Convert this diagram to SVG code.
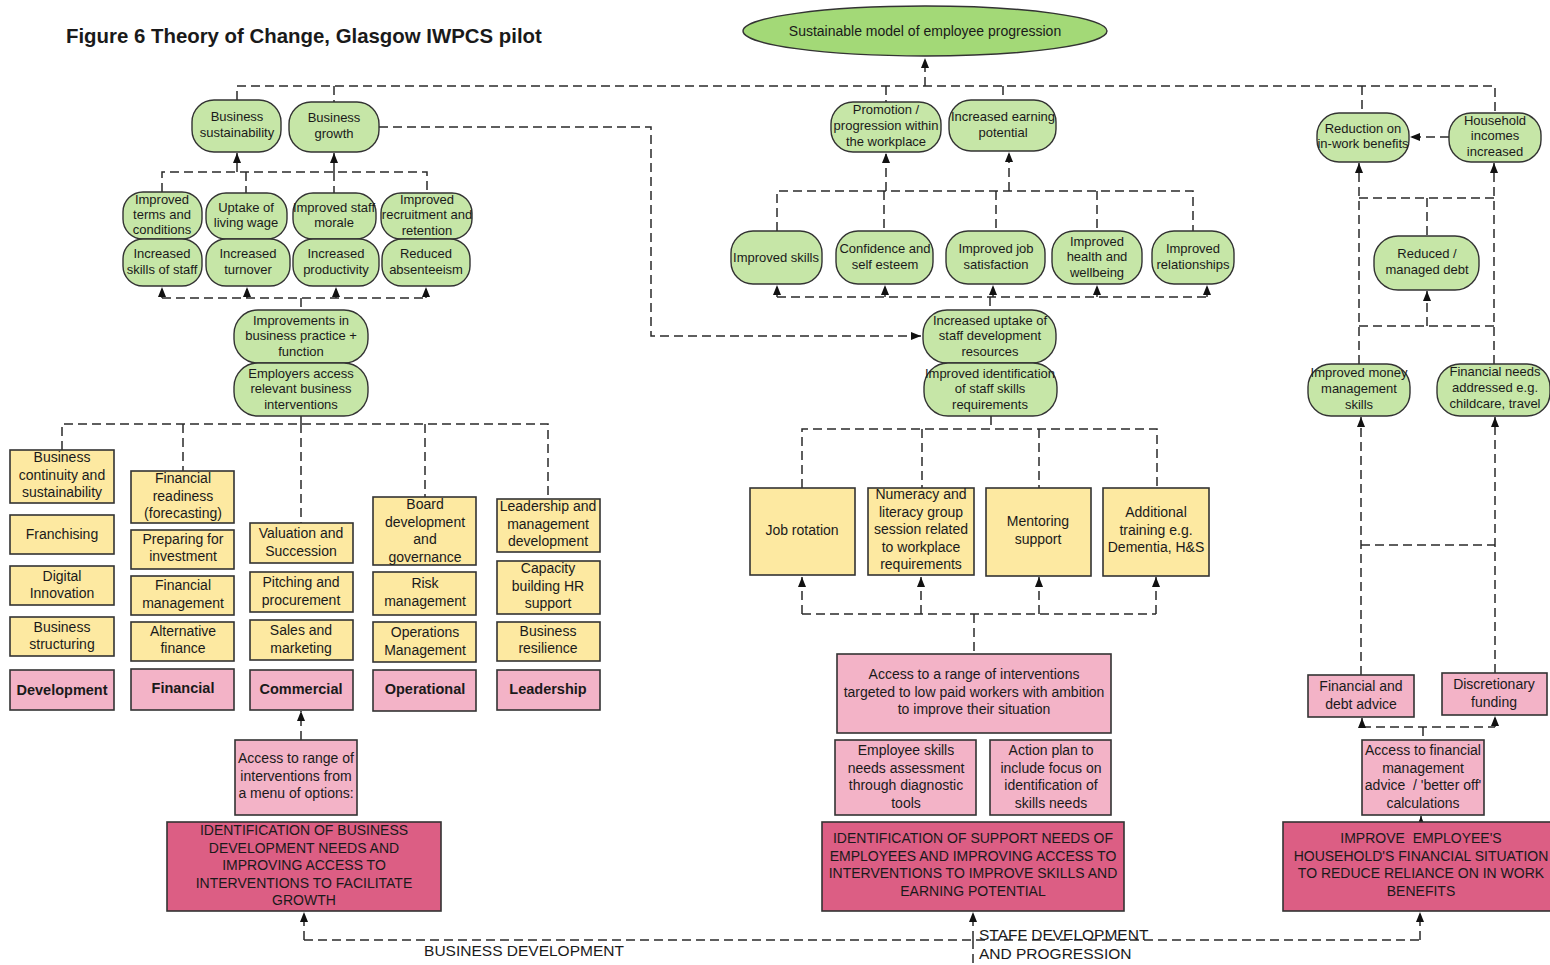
<svg xmlns="http://www.w3.org/2000/svg" width="1550" height="965" viewBox="0 0 1550 965">
<defs>
<marker id="ah" markerWidth="10" markerHeight="8" refX="10" refY="4" orient="auto" markerUnits="userSpaceOnUse"><path d="M0,0 L10,4 L0,8 z" fill="#111" stroke="none"/></marker>
<style>
.g{fill:#c6e6a7;stroke:#333;stroke-width:1.4}
.e{fill:#a3d977;stroke:#333;stroke-width:1.4}
.y{fill:#fde9a1;stroke:#333;stroke-width:1.6}
.p{fill:#f3b3c7;stroke:#333;stroke-width:1.6}
.d{fill:#dc5e84;stroke:#333;stroke-width:1.6}
text{font-family:"Liberation Sans",Arial,sans-serif;fill:#1a1a1a;text-anchor:middle}
.s13{font-size:13px}
.s14{font-size:14px}
.b{font-size:14.5px;font-weight:bold}
.c{fill:none;stroke:#2a2a2a;stroke-width:1.5;stroke-dasharray:9 5}
.a{fill:none;stroke:#2a2a2a;stroke-width:1.5;stroke-dasharray:9 5;marker-end:url(#ah)}
</style>
</defs>
<rect width="1550" height="965" fill="#fff"/>
<text x="66" y="43" style="font-size:20.4px;font-weight:bold;text-anchor:start">Figure 6 Theory of Change, Glasgow IWPCS pilot</text>

<g id="connectors">
<path class="c" d="M237,100 V86 H1495 V113"/>
<path class="c" d="M334,86 V102 M886,86 V102 M1003,86 V100 M1362,86 V113"/>
<path class="a" d="M925,86 V58"/>
<path class="c" d="M162,192 V172 H427 V193 M246,172 V193 M334,172 V193"/>
<path class="a" d="M237,172 V153"/>
<path class="a" d="M334,172 V153"/>
<path class="c" d="M162,298 H426 M301,298 V310"/>
<path class="a" d="M162,298 V287"/>
<path class="a" d="M247,298 V287"/>
<path class="a" d="M336,298 V287"/>
<path class="a" d="M426,298 V287"/>
<path class="c" d="M301,416 V424 M62,450 V424 H548 V499 M183,424 V471 M301,424 V523 M425,424 V497"/>
<path class="a" d="M301,740 V711"/>
<path class="a" d="M379,127 H651 V336 H921"/>
<path class="c" d="M304,940 H1420 M973,940 V965"/>
<path class="a" d="M304,940 V912"/>
<path class="a" d="M973,940 V912"/>
<path class="a" d="M1420,940 V912"/>
<path class="a" d="M886,191 V153"/>
<path class="a" d="M1009,191 V152"/>
<path class="c" d="M777,231 V191 H1193 V231 M884,191 V231 M996,191 V231 M1097,191 V231"/>
<path class="c" d="M777,297 H1207 M990,297 V310"/>
<path class="a" d="M777,297 V285"/>
<path class="a" d="M885,297 V285"/>
<path class="a" d="M993,297 V285"/>
<path class="a" d="M1097,297 V285"/>
<path class="a" d="M1207,297 V285"/>
<path class="c" d="M991,416 V429 M802,488 V429 H1157 V488 M922,429 V488 M1039,429 V488"/>
<path class="c" d="M802,614 H1156 M974,614 V654"/>
<path class="a" d="M802,614 V577"/>
<path class="a" d="M921,614 V577"/>
<path class="a" d="M1039,614 V577"/>
<path class="a" d="M1156,614 V577"/>
<path class="a" d="M1449,137 H1410"/>
<path class="a" d="M1359,364 V163"/>
<path class="a" d="M1494,364 V163"/>
<path class="c" d="M1359,198 H1494 M1427,198 V236 M1359,326 H1494"/>
<path class="a" d="M1427,326 V291"/>
<path class="a" d="M1361,675 V417"/>
<path class="a" d="M1495,673 V417"/>
<path class="c" d="M1361,545 H1495 M1362,727 H1495 M1423,727 V740"/>
<path class="a" d="M1362,727 V718"/>
<path class="a" d="M1495,727 V716"/>
<path class="a" d="M1421,822 V816"/>
</g>

<g id="goal"><ellipse class="e" cx="925" cy="31" rx="182" ry="25"/><text class="s14" x="925" y="36">Sustainable model of employee progression</text></g>

<g id="bsust"><rect class="g" x="192" y="100" width="89" height="52" rx="22"/><text class="s13" x="237" y="121"><tspan x="237">Business</tspan><tspan x="237" dy="16">sustainability</tspan></text></g>
<g id="bgrowth"><rect class="g" x="289" y="102" width="90" height="50" rx="22"/><text class="s13" x="334" y="122"><tspan x="334">Business</tspan><tspan x="334" dy="16">growth</tspan></text></g>
<g id="terms"><rect class="g" x="123" y="192" width="79" height="47" rx="20"/><text class="s13" x="162" y="203.5"><tspan x="162">Improved</tspan><tspan x="162" dy="15">terms and</tspan><tspan x="162" dy="15">conditions</tspan></text></g>
<g id="livwage"><rect class="g" x="206" y="193" width="81" height="46" rx="20"/><text class="s13" x="246" y="211.5"><tspan x="246">Uptake of</tspan><tspan x="246" dy="15.5">living wage</tspan></text></g>
<g id="morale"><rect class="g" x="293" y="193" width="83" height="46" rx="20"/><text class="s13" x="334" y="211.5"><tspan x="334">Improved staff</tspan><tspan x="334" dy="15.5">morale</tspan></text></g>
<g id="recruit"><rect class="g" x="381" y="193" width="91" height="46" rx="20"/><text class="s13" x="427" y="203.5"><tspan x="427">Improved</tspan><tspan x="427" dy="15.5">recruitment and</tspan><tspan x="427" dy="15.5">retention</tspan></text></g>
<g id="skillsstaff"><rect class="g" x="123" y="239" width="79" height="47" rx="20"/><text class="s13" x="162" y="258"><tspan x="162">Increased</tspan><tspan x="162" dy="16">skills of staff</tspan></text></g>
<g id="turnover"><rect class="g" x="206" y="239" width="84" height="47" rx="20"/><text class="s13" x="248" y="258"><tspan x="248">Increased</tspan><tspan x="248" dy="16">turnover</tspan></text></g>
<g id="productivity"><rect class="g" x="293" y="239" width="86" height="47" rx="20"/><text class="s13" x="336" y="258"><tspan x="336">Increased</tspan><tspan x="336" dy="16">productivity</tspan></text></g>
<g id="absent"><rect class="g" x="382" y="239" width="88" height="47" rx="20"/><text class="s13" x="426" y="258"><tspan x="426">Reduced</tspan><tspan x="426" dy="16">absenteeism</tspan></text></g>
<g id="bpractice"><rect class="g" x="234" y="310" width="134" height="53" rx="24"/><text class="s13" x="301" y="324.5"><tspan x="301">Improvements in</tspan><tspan x="301" dy="15.5">business practice +</tspan><tspan x="301" dy="15.5">function</tspan></text></g>
<g id="empaccess"><rect class="g" x="234" y="363" width="134" height="53" rx="24"/><text class="s13" x="301" y="377.5"><tspan x="301">Employers access</tspan><tspan x="301" dy="15.5">relevant business</tspan><tspan x="301" dy="15.5">interventions</tspan></text></g>

<g id="bcont"><rect class="y" x="10" y="450" width="104" height="53"/><text class="s14" x="62" y="462"><tspan x="62">Business</tspan><tspan x="62" dy="17.5">continuity and</tspan><tspan x="62" dy="17.5">sustainability</tspan></text></g>
<g id="franch"><rect class="y" x="10" y="515" width="104" height="39"/><text class="s14" x="62" y="539">Franchising</text></g>
<g id="digital"><rect class="y" x="10" y="566" width="104" height="39"/><text class="s14" x="62" y="581"><tspan x="62">Digital</tspan><tspan x="62" dy="17">Innovation</tspan></text></g>
<g id="bstruct"><rect class="y" x="10" y="617" width="104" height="39"/><text class="s14" x="62" y="632"><tspan x="62">Business</tspan><tspan x="62" dy="17">structuring</tspan></text></g>
<g id="development"><rect class="p" x="10" y="670" width="104" height="40"/><text class="b" x="62" y="695">Development</text></g>

<g id="finready"><rect class="y" x="131" y="471" width="103" height="52"/><text class="s14" x="183" y="483"><tspan x="183">Financial</tspan><tspan x="183" dy="17.5">readiness</tspan><tspan x="183" dy="17.5">(forecasting)</tspan></text></g>
<g id="prepinv"><rect class="y" x="131" y="530" width="103" height="39"/><text class="s14" x="183" y="544"><tspan x="183">Preparing for</tspan><tspan x="183" dy="17">investment</tspan></text></g>
<g id="finman"><rect class="y" x="131" y="576" width="103" height="39"/><text class="s14" x="183" y="590"><tspan x="183">Financial</tspan><tspan x="183" dy="17.5">management</tspan></text></g>
<g id="altfin"><rect class="y" x="131" y="622" width="103" height="39"/><text class="s14" x="183" y="636"><tspan x="183">Alternative</tspan><tspan x="183" dy="17">finance</tspan></text></g>
<g id="financial"><rect class="p" x="131" y="669" width="103" height="41"/><text class="b" x="183" y="693">Financial</text></g>

<g id="valuation"><rect class="y" x="250" y="523" width="103" height="40"/><text class="s14" x="301" y="538"><tspan x="301">Valuation and</tspan><tspan x="301" dy="17.5">Succession</tspan></text></g>
<g id="pitching"><rect class="y" x="250" y="572" width="103" height="40"/><text class="s14" x="301" y="587"><tspan x="301">Pitching and</tspan><tspan x="301" dy="17.5">procurement</tspan></text></g>
<g id="sales"><rect class="y" x="250" y="620" width="103" height="40"/><text class="s14" x="301" y="635"><tspan x="301">Sales and</tspan><tspan x="301" dy="17.5">marketing</tspan></text></g>
<g id="commercial"><rect class="p" x="250" y="670" width="103" height="40"/><text class="b" x="301" y="694">Commercial</text></g>

<g id="board"><rect class="y" x="373" y="497" width="103" height="68"/><text class="s14" x="425" y="509"><tspan x="425">Board</tspan><tspan x="425" dy="17.5">development</tspan><tspan x="425" dy="17.5">and</tspan><tspan x="425" dy="17.5">governance</tspan></text></g>
<g id="risk"><rect class="y" x="373" y="572" width="103" height="43"/><text class="s14" x="425" y="588"><tspan x="425">Risk</tspan><tspan x="425" dy="17.5">management</tspan></text></g>
<g id="opsman"><rect class="y" x="373" y="622" width="103" height="40"/><text class="s14" x="425" y="637"><tspan x="425">Operations</tspan><tspan x="425" dy="17.5">Management</tspan></text></g>
<g id="operational"><rect class="p" x="373" y="670" width="103" height="41"/><text class="b" x="425" y="694">Operational</text></g>

<g id="leaddev"><rect class="y" x="497" y="499" width="103" height="53"/><text class="s14" x="548" y="511"><tspan x="548">Leadership and</tspan><tspan x="548" dy="17.5">management</tspan><tspan x="548" dy="17.5">development</tspan></text></g>
<g id="capacity"><rect class="y" x="497" y="561" width="103" height="53"/><text class="s14" x="548" y="573"><tspan x="548">Capacity</tspan><tspan x="548" dy="17.5">building HR</tspan><tspan x="548" dy="17.5">support</tspan></text></g>
<g id="resilience"><rect class="y" x="497" y="622" width="103" height="39"/><text class="s14" x="548" y="636"><tspan x="548">Business</tspan><tspan x="548" dy="17">resilience</tspan></text></g>
<g id="leadership"><rect class="p" x="497" y="670" width="103" height="40"/><text class="b" x="548" y="694">Leadership</text></g>

<g id="menu"><rect class="p" x="235" y="740" width="122" height="75"/><text class="s14" x="296" y="763"><tspan x="296">Access to range of</tspan><tspan x="296" dy="17.5">interventions from</tspan><tspan x="296" dy="17.5">a menu of options:</tspan></text></g>
<g id="idbus"><rect class="d" x="167" y="822" width="274" height="89"/><text class="s14" x="304" y="835"><tspan x="304">IDENTIFICATION OF BUSINESS</tspan><tspan x="304" dy="17.5">DEVELOPMENT NEEDS AND</tspan><tspan x="304" dy="17.5">IMPROVING ACCESS TO</tspan><tspan x="304" dy="17.5">INTERVENTIONS TO FACILITATE</tspan><tspan x="304" dy="17.5">GROWTH</tspan></text></g>

<g id="promotion"><rect class="g" x="831" y="102" width="110" height="50" rx="22"/><text class="s13" x="886" y="113.5"><tspan x="886">Promotion /</tspan><tspan x="886" dy="16">progression within</tspan><tspan x="886" dy="16">the workplace</tspan></text></g>
<g id="earning"><rect class="g" x="949" y="100" width="107" height="51" rx="22"/><text class="s13" x="1003" y="120.5"><tspan x="1003">Increased earning</tspan><tspan x="1003" dy="16">potential</tspan></text></g>
<g id="impskills"><rect class="g" x="731" y="231" width="91" height="53" rx="22"/><text class="s13" x="776" y="261.5">Improved skills</text></g>
<g id="confidence"><rect class="g" x="836" y="231" width="97" height="53" rx="22"/><text class="s13" x="885" y="253"><tspan x="885">Confidence and</tspan><tspan x="885" dy="16">self esteem</tspan></text></g>
<g id="jobsat"><rect class="g" x="946" y="231" width="99" height="53" rx="22"/><text class="s13" x="996" y="253"><tspan x="996">Improved job</tspan><tspan x="996" dy="16">satisfaction</tspan></text></g>
<g id="health"><rect class="g" x="1052" y="231" width="90" height="53" rx="22"/><text class="s13" x="1097" y="245.5"><tspan x="1097">Improved</tspan><tspan x="1097" dy="15.5">health and</tspan><tspan x="1097" dy="15.5">wellbeing</tspan></text></g>
<g id="relationships"><rect class="g" x="1152" y="231" width="82" height="53" rx="22"/><text class="s13" x="1193" y="253"><tspan x="1193">Improved</tspan><tspan x="1193" dy="16">relationships</tspan></text></g>
<g id="uptake"><rect class="g" x="923" y="310" width="133" height="53" rx="24"/><text class="s13" x="990" y="324.5"><tspan x="990">Increased uptake of</tspan><tspan x="990" dy="15.5">staff development</tspan><tspan x="990" dy="15.5">resources</tspan></text></g>
<g id="identification"><rect class="g" x="924" y="363" width="133" height="53" rx="24"/><text class="s13" x="990" y="377.5"><tspan x="990">Improved identification</tspan><tspan x="990" dy="15.5">of staff skills</tspan><tspan x="990" dy="15.5">requirements</tspan></text></g>

<g id="jobrot"><rect class="y" x="750" y="488" width="105" height="87"/><text class="s14" x="802" y="535">Job rotation</text></g>
<g id="numeracy"><rect class="y" x="868" y="488" width="106" height="87"/><text class="s14" x="921" y="499"><tspan x="921">Numeracy and</tspan><tspan x="921" dy="17.5">literacy group</tspan><tspan x="921" dy="17.5">session related</tspan><tspan x="921" dy="17.5">to workplace</tspan><tspan x="921" dy="17.5">requirements</tspan></text></g>
<g id="mentoring"><rect class="y" x="986" y="488" width="105" height="88"/><text class="s14" x="1038" y="526"><tspan x="1038">Mentoring</tspan><tspan x="1038" dy="17.5">support</tspan></text></g>
<g id="addtrain"><rect class="y" x="1103" y="488" width="106" height="88"/><text class="s14" x="1156" y="517"><tspan x="1156">Additional</tspan><tspan x="1156" dy="17.5">training e.g.</tspan><tspan x="1156" dy="17.5">Dementia, H&amp;S</tspan></text></g>

<g id="range"><rect class="p" x="837" y="654" width="274" height="79"/><text class="s14" x="974" y="679"><tspan x="974">Access to a range of interventions</tspan><tspan x="974" dy="17.5">targeted to low paid workers with ambition</tspan><tspan x="974" dy="17.5">to improve their situation</tspan></text></g>
<g id="assessment"><rect class="p" x="835" y="740" width="141" height="75"/><text class="s14" x="906" y="755"><tspan x="906">Employee skills</tspan><tspan x="906" dy="17.5">needs assessment</tspan><tspan x="906" dy="17.5">through diagnostic</tspan><tspan x="906" dy="17.5">tools</tspan></text></g>
<g id="actionplan"><rect class="p" x="990" y="740" width="121" height="75"/><text class="s14" x="1051" y="755"><tspan x="1051">Action plan to</tspan><tspan x="1051" dy="17.5">include focus on</tspan><tspan x="1051" dy="17.5">identification of</tspan><tspan x="1051" dy="17.5">skills needs</tspan></text></g>
<g id="idsupport"><rect class="d" x="822" y="822" width="302" height="89"/><text class="s14" x="973" y="843"><tspan x="973">IDENTIFICATION OF SUPPORT NEEDS OF</tspan><tspan x="973" dy="17.5">EMPLOYEES AND IMPROVING ACCESS TO</tspan><tspan x="973" dy="17.5">INTERVENTIONS TO IMPROVE SKILLS AND</tspan><tspan x="973" dy="17.5">EARNING POTENTIAL</tspan></text></g>

<g id="reduction"><rect class="g" x="1317" y="113" width="92" height="49" rx="22"/><text class="s13" x="1363" y="132.5"><tspan x="1363">Reduction on</tspan><tspan x="1363" dy="15.5">in-work benefits</tspan></text></g>
<g id="household"><rect class="g" x="1449" y="113" width="92" height="49" rx="22"/><text class="s13" x="1495" y="124.5"><tspan x="1495">Household</tspan><tspan x="1495" dy="15.5">incomes</tspan><tspan x="1495" dy="15.5">increased</tspan></text></g>
<g id="debt"><rect class="g" x="1374" y="236" width="105" height="54" rx="24"/><text class="s13" x="1427" y="258"><tspan x="1427">Reduced /</tspan><tspan x="1427" dy="15.5">managed debt</tspan></text></g>
<g id="money"><rect class="g" x="1308" y="364" width="102" height="52" rx="23"/><text class="s13" x="1359" y="377"><tspan x="1359">Improved money</tspan><tspan x="1359" dy="16">management</tspan><tspan x="1359" dy="16">skills</tspan></text></g>
<g id="finneeds"><rect class="g" x="1437" y="364" width="113" height="52" rx="23"/><text class="s13" x="1495" y="376"><tspan x="1495">Financial needs</tspan><tspan x="1495" dy="16">addressed e.g.</tspan><tspan x="1495" dy="16">childcare, travel</tspan></text></g>
<g id="debtadvice"><rect class="p" x="1308" y="675" width="106" height="42"/><text class="s14" x="1361" y="691"><tspan x="1361">Financial and</tspan><tspan x="1361" dy="17.5">debt advice</tspan></text></g>
<g id="discretionary"><rect class="p" x="1442" y="673" width="105" height="42"/><text class="s14" x="1494" y="689"><tspan x="1494">Discretionary</tspan><tspan x="1494" dy="17.5">funding</tspan></text></g>
<g id="finadvice"><rect class="p" x="1362" y="740" width="122" height="75"/><text class="s14" x="1423" y="755"><tspan x="1423">Access to financial</tspan><tspan x="1423" dy="17.5">management</tspan><tspan x="1423" dy="17.5">advice &#160;/ 'better off'</tspan><tspan x="1423" dy="17.5">calculations</tspan></text></g>
<g id="improve"><rect class="d" x="1283" y="822" width="275" height="89"/><text class="s14" x="1421" y="843"><tspan x="1421">IMPROVE &#160;EMPLOYEE'S</tspan><tspan x="1421" dy="17.5">HOUSEHOLD'S FINANCIAL SITUATION</tspan><tspan x="1421" dy="17.5">TO REDUCE RELIANCE ON IN WORK</tspan><tspan x="1421" dy="17.5">BENEFITS</tspan></text></g>

<g id="labels">
<text x="524" y="955.5" style="font-size:15.5px">BUSINESS DEVELOPMENT</text>
<text x="979" y="939.5" style="font-size:15.5px;text-anchor:start">STAFF DEVELOPMENT</text>
<text x="979" y="958.5" style="font-size:15.5px;text-anchor:start">AND PROGRESSION</text>
</g>
</svg>
